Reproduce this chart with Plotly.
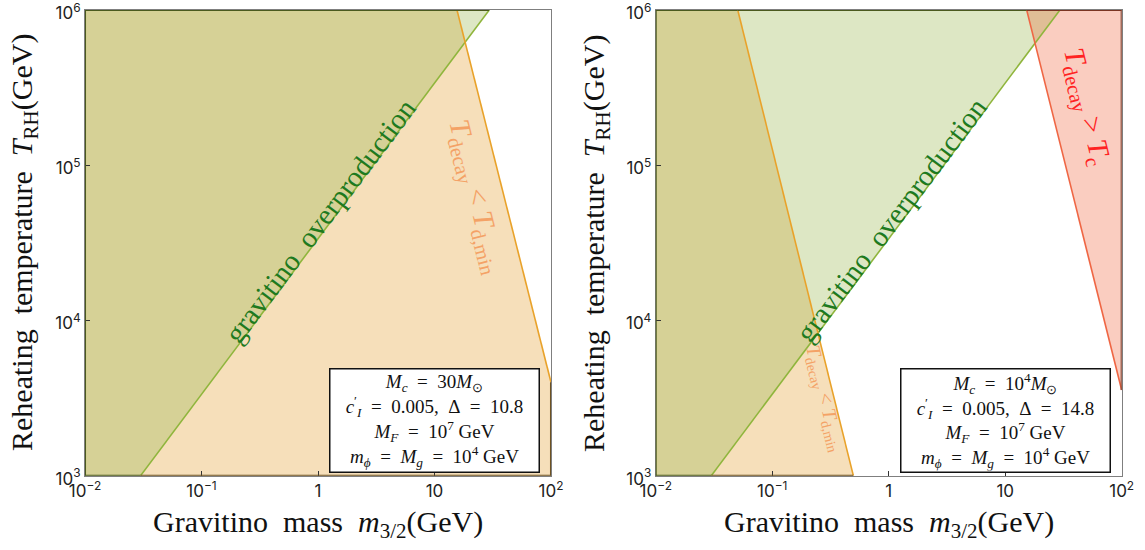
import numpy as np
import plotly.graph_objects as go

# ---------------- data ----------------
X_RANGE = [1e-2, 1e2]          # gravitino mass (GeV)
Y_RANGE = [1e3, 1e6]           # reheating temperature (GeV)

# left panel: M_c = 30 M_sun
L_grav_m = [0.03, 29.5]
L_grav_T = [1e3, 1e6]
L_dmin_m = [15.6, 100.0]
L_dmin_T = [1e6, 4.0e3]

# right panel: M_c = 1e4 M_sun
R_grav_m = [0.03, 29.5]
R_grav_T = [1e3, 1e6]
R_dmin_m = [0.0506, 0.497]
R_dmin_T = [1e6, 1e3]
R_tc_m = [15.3, 100.0]
R_tc_T = [1e6, 3.56e3]

x_tickvals = [1e-2, 1e-1, 1, 10, 1e2]
x_ticktext = ["10<sup>−2</sup>", "10<sup>−1</sup>", "1", "10", "10<sup>2</sup>"]
y_tickvals = [1e3, 1e4, 1e5, 1e6]
y_ticktext = ["10<sup>3</sup>", "10<sup>4</sup>", "10<sup>5</sup>", "10<sup>6</sup>"]

EQ = "\u2002=\u2002"
L_box = [f"<i>M<sub>c</sub></i>{EQ}30<i>M</i><sub>⊙</sub>",
         f"<i>c</i><sup>′</sup><sub><i>I</i></sub>{EQ}0.005,\u2002Δ{EQ}10.8",
         f"<i>M<sub>F</sub></i>{EQ}10<sup>7</sup> GeV",
         f"<i>m<sub>ϕ</sub></i>{EQ}<i>M<sub>g</sub></i>{EQ}10<sup>4</sup> GeV"]
R_box = [f"<i>M<sub>c</sub></i>{EQ}10<sup>4</sup><i>M</i><sub>⊙</sub>",
         f"<i>c</i><sup>′</sup><sub><i>I</i></sub>{EQ}0.005,\u2002Δ{EQ}14.8",
         f"<i>M<sub>F</sub></i>{EQ}10<sup>7</sup> GeV",
         f"<i>m<sub>ϕ</sub></i>{EQ}<i>M<sub>g</sub></i>{EQ}10<sup>4</sup> GeV"]

# ---------------- style ----------------
C_GREEN = "#dde7c4"
C_ORANGE = "#f6dfba"
C_OLIVE = "#d6d196"
C_RED = "#facdc0"
C_REDGREEN = "#e0be96"
L_GREEN = "#8fb53c"
L_ORANGE = "#e9a22a"
L_RED = "#ef6644"
SERIF = "Liberation Serif"
SANS = "Inter"
W, H = 1145, 550


def halfplane(m, T, side):
    x1, x2 = np.log10(m)
    y1, y2 = np.log10(T)
    s = (y2 - y1) / (x2 - x1)
    return lambda x, y: side * (y - (y1 + s * (x - x1)))


def clip(poly, f):
    out = []
    n = len(poly)
    for i in range(n):
        P, Q = poly[i], poly[(i + 1) % n]
        fp, fq = f(*P), f(*Q)
        if fp >= -1e-12:
            out.append(P)
        if (fp >= -1e-12) != (fq >= -1e-12):
            t = fp / (fp - fq)
            out.append((P[0] + t * (Q[0] - P[0]), P[1] + t * (Q[1] - P[1])))
    return out


lx = np.log10(X_RANGE)
ly = np.log10(Y_RANGE)
BOX = [(lx[0], ly[0]), (lx[1], ly[0]), (lx[1], ly[1]), (lx[0], ly[1])]


def region(fs):
    p = list(BOX)
    for f in fs:
        p = clip(p, f)
        if not p:
            break
    return p


fig = go.Figure()
shapes = []


def add_region(poly, color, edge, xa, ya):
    if len(poly) < 3:
        return
    xs = [10 ** p[0] for p in poly] + [10 ** poly[0][0]]
    ys = [10 ** p[1] for p in poly] + [10 ** poly[0][1]]
    fig.add_trace(go.Scatter(x=xs, y=ys, fill="toself", fillcolor=color, mode="lines",
                             line=dict(width=0), hoverinfo="skip", showlegend=False,
                             xaxis=xa, yaxis=ya))
    eps = 1e-9
    n = len(poly)
    for i in range(n):
        P, Q = poly[i], poly[(i + 1) % n]
        same = ((abs(P[0] - lx[0]) < eps and abs(Q[0] - lx[0]) < eps) or
                (abs(P[0] - lx[1]) < eps and abs(Q[0] - lx[1]) < eps) or
                (abs(P[1] - ly[0]) < eps and abs(Q[1] - ly[0]) < eps) or
                (abs(P[1] - ly[1]) < eps and abs(Q[1] - ly[1]) < eps))
        if same and (abs(P[0] - Q[0]) > eps or abs(P[1] - Q[1]) > eps):
            shapes.append(dict(type="line", xref=xa, yref=ya, layer="above",
                               x0=10 ** P[0], y0=10 ** P[1], x1=10 ** Q[0], y1=10 ** Q[1],
                               line=dict(color=edge, width=2)))


def add_line(m, T, color, xa, ya):
    fig.add_trace(go.Scatter(x=m, y=T, mode="lines", line=dict(color=color, width=1.6),
                             hoverinfo="skip", showlegend=False, xaxis=xa, yaxis=ya))


D_OLIVE = "#4b5a1e"
D_ORANGE = "#6e5222"
D_RED = "#7a3522"

# left panel
gA = halfplane(L_grav_m, L_grav_T, +1)
gB = halfplane(L_grav_m, L_grav_T, -1)
oB = halfplane(L_dmin_m, L_dmin_T, -1)
oA = halfplane(L_dmin_m, L_dmin_T, +1)
add_region(region([gA, oB]), C_OLIVE, D_OLIVE, "x", "y")
add_region(region([gA, oA]), C_GREEN, D_OLIVE, "x", "y")
add_region(region([gB, oB]), C_ORANGE, D_ORANGE, "x", "y")
add_line(L_grav_m, L_grav_T, L_GREEN, "x", "y")
add_line(L_dmin_m, L_dmin_T, L_ORANGE, "x", "y")

# right panel
gA = halfplane(R_grav_m, R_grav_T, +1)
gB = halfplane(R_grav_m, R_grav_T, -1)
oB = halfplane(R_dmin_m, R_dmin_T, -1)
oA = halfplane(R_dmin_m, R_dmin_T, +1)
rA = halfplane(R_tc_m, R_tc_T, +1)
rB = halfplane(R_tc_m, R_tc_T, -1)
add_region(region([gA, oB]), C_OLIVE, D_OLIVE, "x2", "y2")
add_region(region([gA, oA, rB]), C_GREEN, D_OLIVE, "x2", "y2")
add_region(region([gB, oB]), C_ORANGE, D_ORANGE, "x2", "y2")
add_region(region([gA, rA]), C_REDGREEN, D_RED, "x2", "y2")
add_region(region([gB, rA]), C_RED, D_RED, "x2", "y2")
add_line(R_grav_m, R_grav_T, L_GREEN, "x2", "y2")
add_line(R_dmin_m, R_dmin_T, L_ORANGE, "x2", "y2")
add_line(R_tc_m, R_tc_T, L_RED, "x2", "y2")

# ---------------- axes ----------------
XD1 = [85 / W, 551 / W]
XD2 = [655.7 / W, 1121.7 / W]
YD = [1 - 475.7 / H, 1 - 10 / H]
PAD = 2e-4

axis_common = dict(type="log", showgrid=False, zeroline=False, showline=True, mirror=True,
                   linecolor="#7f7f7f", linewidth=1, ticks="inside", ticklen=5, tickwidth=1,
                   tickcolor="#333333", tickfont=dict(family=SANS, size=17, color="#222222"),
                   automargin=False, ticklabeloverflow="allow")
xa = dict(axis_common, range=[lx[0] - PAD, lx[1] + PAD], tickvals=x_tickvals, ticktext=x_ticktext)
ya = dict(axis_common, range=[ly[0] - PAD, ly[1] + PAD], tickvals=y_tickvals, ticktext=y_ticktext,
          ticklabelshift=3)

fig.update_layout(
    width=W, height=H, margin=dict(l=0, r=0, t=0, b=0),
    paper_bgcolor="white", plot_bgcolor="white", showlegend=False,
    xaxis=dict(xa, domain=XD1, anchor="y"),
    yaxis=dict(ya, domain=YD, anchor="x"),
    xaxis2=dict(xa, domain=XD2, anchor="y2"),
    yaxis2=dict(ya, domain=YD, anchor="x2"),
    shapes=shapes,
)


def px(x, y):
    return x / W, 1 - y / H


ann = []


def text(x, y, t, size, color, angle=0, family=SERIF):
    X, Y = px(x, y)
    ann.append(dict(x=X, y=Y, xref="paper", yref="paper", text=t, showarrow=False,
                    textangle=angle, xanchor="center", yanchor="middle",
                    font=dict(family=family, size=size, color=color)))


# axis titles
xt = "Gravitino  mass  <i>m</i><sub>3/2</sub>(GeV)"
yt = "Reheating  temperature  <i>T</i><sub>RH</sub>(GeV)"
text(318, 524, xt, 30, "#111111")
text(888.7, 524, xt, 30, "#111111")
text(24, 243, yt, 30, "#111111", angle=-90)
text(596, 243, yt, 30, "#111111", angle=-90)

# region labels
text(320, 221, "gravitino  overproduction", 29, "#1e7a1e", angle=-53)
text(891, 220, "gravitino  overproduction", 29, "#1e7a1e", angle=-53)
text(476, 196, "<i>T</i><sub>decay</sub> &lt; <i>T</i><sub>d,min</sub>", 29, "#f4a266", angle=76)
text(825, 398, "<i>T</i><sub>decay</sub> &lt; <i>T</i><sub>d,min</sub>", 20, "#f4a266", angle=76)
text(1086, 106, "<i>T</i><sub>decay</sub> &gt; <i>T</i><sub>c</sub>", 29, "#ff2222", angle=76)

# parameter boxes
for cx, lines in ((434, L_box), (1005.7, R_box)):
    X, Y = px(cx, 420)
    ann.append(dict(x=X, y=Y, xref="paper", yref="paper", text="<br>".join(lines),
                    showarrow=False, xanchor="center", yanchor="middle", align="center",
                    width=206, height=100, valign="middle",
                    bgcolor="white", bordercolor="#111111", borderwidth=1.5, borderpad=1,
                    font=dict(family=SERIF, size=19, color="#111111")))

fig.update_layout(annotations=ann)
fig.write_html("out.html")
